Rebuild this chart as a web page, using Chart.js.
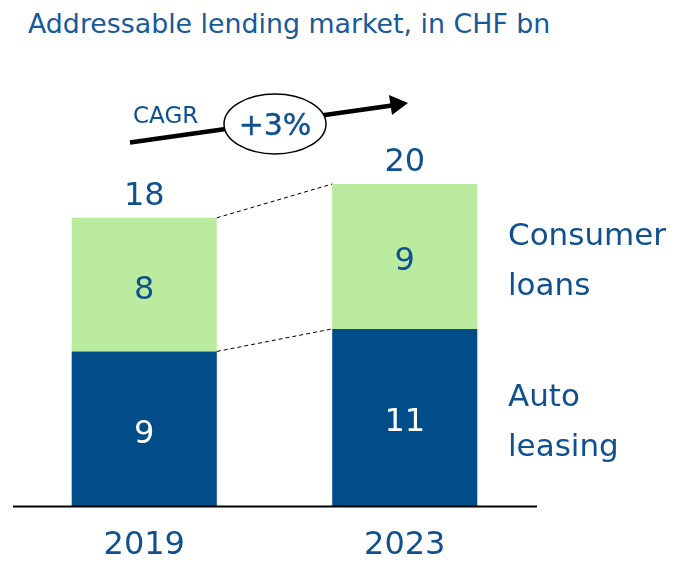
<!DOCTYPE html>
<html>
<head>
<meta charset="utf-8">
<script src="https://cdn.jsdelivr.net/npm/chart.js@4"></script>
<style>
  html, body { margin: 0; padding: 0; background: #fff; }
  #wrap { position: relative; width: 676px; height: 562px; }
  #title {
    position: absolute; left: 28px; top: 4px;
    font: 26.8px "DejaVu Sans"; line-height: 40px;
    color: #17599a; white-space: nowrap; margin: 0; font-weight: normal;
  }
  canvas { position: absolute; left: 0; top: 0; }
</style>
</head>
<body>
<div id="wrap">
  <h1 id="title">Addressable lending market, in CHF bn</h1>
  <canvas id="myChart" width="676" height="562"></canvas>
</div>
<script>
const years = ["2019", "2023"]
const autoLeasing = [9.6, 11.0]
const consumerLoans = [8.3, 9.0]
const autoLabels = ["9", "11"]
const consumerLabels = ["8", "9"]
const totalLabels = ["18", "20"]
const seriesNames = [["Auto", "leasing"], ["Consumer", "loans"]]
const cagrText = "CAGR"
const cagrValue = "+3%"

const darkBlue = "#014d89"
const lightGreen = "#bbeb9f"
const textBlue = "#0f5190"
const font = "DejaVu Sans"

const overlay = {
    id: "overlay",
    afterDatasetsDraw(chart) {
        const c = chart.ctx
        const base = chart.scales.y.getPixelForValue(0)
        const metas = [chart.getDatasetMeta(0), chart.getDatasetMeta(1)]

        c.save()

        // dashed connectors between bar tops
        c.strokeStyle = "#000"
        c.lineWidth = 1
        c.setLineDash([4, 3])
        metas.forEach(meta => {
            const a = meta.data[0], b = meta.data[1]
            c.beginPath()
            c.moveTo(a.x + a.width / 2, a.y)
            c.lineTo(b.x - b.width / 2, b.y)
            c.stroke()
        })
        c.setLineDash([])

        // axis line
        c.lineWidth = 2
        c.beginPath()
        c.moveTo(13, base + 0.5)
        c.lineTo(537, base + 0.5)
        c.stroke()

        // numbers inside segments
        c.textAlign = "center"
        c.textBaseline = "alphabetic"
        c.font = "32px '" + font + "'"
        const segLabels = [autoLabels, consumerLabels]
        metas.forEach((meta, i) => {
            meta.data.forEach((el, j) => {
                const mid = (el.y + el.base) / 2
                c.fillStyle = i === 0 ? "#ffffff" : textBlue
                c.fillText(segLabels[i][j], el.x, mid + 14)
            })
        })

        // totals above bars
        c.fillStyle = textBlue
        metas[1].data.forEach((el, j) => {
            c.fillText(totalLabels[j], el.x, el.y - 13)
        })

        // year labels
        metas[0].data.forEach((el, j) => {
            c.fillText(years[j], el.x, 554)
        })

        // series names on the right
        c.textAlign = "left"
        c.font = "31px '" + font + "'"
        metas.forEach((meta, i) => {
            const el = meta.data[1]
            const mid = (el.y + el.base) / 2
            c.fillText(seriesNames[i][0], 508, mid - 25 + 13.5)
            c.fillText(seriesNames[i][1], 508, mid + 25 + 13.5)
        })

        // CAGR arrow
        c.strokeStyle = "#000"
        c.fillStyle = "#000"
        c.lineWidth = 4.5
        c.beginPath()
        c.moveTo(130, 142.5)
        c.lineTo(392, 105.5)
        c.stroke()
        c.beginPath()
        c.moveTo(408, 103)
        c.lineTo(389, 95)
        c.lineTo(392, 115)
        c.closePath()
        c.fill()

        c.fillStyle = textBlue
        c.font = "23px '" + font + "'"
        c.fillText(cagrText, 133, 123)

        c.beginPath()
        c.ellipse(275, 124, 51, 30, 0, 0, Math.PI * 2)
        c.fillStyle = "#fff"
        c.fill()
        c.lineWidth = 1.5
        c.strokeStyle = "#000"
        c.stroke()

        c.fillStyle = textBlue
        c.strokeStyle = textBlue
        c.lineWidth = 0.4
        c.textAlign = "center"
        c.font = "30px '" + font + "'"
        c.fillText(cagrValue, 275, 135)
        c.strokeText(cagrValue, 275, 135)

        c.restore()
    }
}

function main() {
    const ctx = document.getElementById("myChart")

    new Chart(ctx, {
        type: "bar",
        data: {
            labels: years,
            datasets: [
                {
                    label: "Auto leasing",
                    data: autoLeasing,
                    backgroundColor: darkBlue,
                    barPercentage: 0.557,
                    categoryPercentage: 1,
                },
                {
                    label: "Consumer loans",
                    data: consumerLoans,
                    backgroundColor: lightGreen,
                    barPercentage: 0.557,
                    categoryPercentage: 1,
                },
            ],
        },
        options: {
            responsive: false,
            animation: false,
            devicePixelRatio: 1,
            layout: {
                padding: { left: 14, right: 141, top: 119.6, bottom: 56 },
            },
            scales: {
                x: { stacked: true, display: false },
                y: { stacked: true, display: false, min: 0, max: 24 },
            },
            plugins: {
                legend: { display: false },
                tooltip: { enabled: false },
            },
        },
        plugins: [overlay],
    })
}

document.addEventListener("DOMContentLoaded", main)
</script>
</body>
</html>
